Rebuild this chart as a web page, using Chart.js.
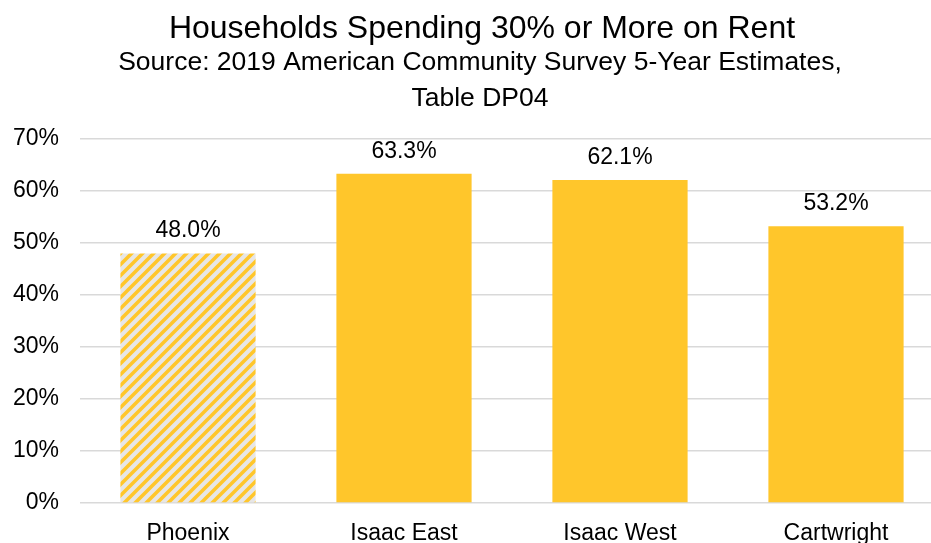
<!DOCTYPE html>
<html>
<head>
<meta charset="utf-8">
<script src="https://cdn.jsdelivr.net/npm/chart.js@4"></script>
<style>
  html, body { margin: 0; padding: 0; background: #ffffff; overflow: hidden; width: 931px; height: 543px; }
  canvas { display: block; }
</style>
</head>
<body>
<canvas id="c" width="964" height="560"></canvas>
<script>
const categories = ["Phoenix", "Isaac East", "Isaac West", "Cartwright"];
const values = [48.0, 63.3, 62.1, 53.2];
const yTicks = [0, 10, 20, 30, 40, 50, 60, 70];
const titleText = "Households Spending 30% or More on Rent";
const subtitleLines = ["Source: 2019 American Community Survey 5-Year Estimates,", "Table DP04"];

const YELLOW = "#FFC62B";
const HATCH_BG = "#E7E6E6";
const FONT = "'Liberation Sans', Arial, Helvetica, sans-serif";

function makeHatch() {
  const s = 11;
  const c = document.createElement('canvas');
  c.width = s; c.height = s;
  const g = c.getContext('2d');
  g.fillStyle = HATCH_BG;
  g.fillRect(0, 0, s, s);
  g.strokeStyle = YELLOW;
  g.lineWidth = 3.6;
  g.lineCap = 'square';
  for (let k = -1; k <= 1; k++) {
    g.beginPath();
    g.moveTo(k * s, s);
    g.lineTo(k * s + s, 0);
    g.stroke();
  }
  return document.getElementById('c').getContext('2d').createPattern(c, 'repeat');
}
const hatch = makeHatch();

const titles = {
  id: 'titles',
  afterDraw(chart) {
    const ctx = chart.ctx;
    ctx.save();
    ctx.fillStyle = '#000000';
    ctx.textAlign = 'center';
    ctx.textBaseline = 'alphabetic';
    ctx.font = "32px " + FONT;
    ctx.fillText(titleText, 482, 38);
    ctx.font = "26.5px " + FONT;
    ctx.fillText(subtitleLines[0], 480, 70);
    ctx.fillText(subtitleLines[1], 480, 106);
    ctx.restore();
  }
};

const valueLabels = {
  id: 'valueLabels',
  afterDatasetsDraw(chart) {
    const ctx = chart.ctx;
    const meta = chart.getDatasetMeta(0);
    ctx.save();
    ctx.fillStyle = '#000000';
    ctx.font = "23px " + FONT;
    ctx.textAlign = 'center';
    ctx.textBaseline = 'alphabetic';
    meta.data.forEach((bar, i) => {
      ctx.fillText(values[i].toFixed(1) + '%', bar.x, bar.y - 16);
    });
    ctx.restore();
  }
};

new Chart(document.getElementById('c'), {
  type: 'bar',
  data: {
    labels: categories,
    datasets: [{
      data: values,
      backgroundColor: [hatch, YELLOW, YELLOW, YELLOW],
      borderWidth: 0,
      barPercentage: 0.626,
      categoryPercentage: 1.0
    }]
  },
  options: {
    responsive: false,
    animation: false,
    events: [],
    layout: { padding: { left: 0, right: 20, top: 139, bottom: 0 } },
    plugins: {
      legend: { display: false },
      tooltip: { enabled: false },
      title: { display: false },
      subtitle: { display: false }
    },
    scales: {
      y: {
        min: 0,
        max: 70,
        afterFit(scale) { scale.width = 80; },
        afterBuildTicks(scale) { scale.ticks = yTicks.map(v => ({ value: v })); },
        ticks: {
          stepSize: 10,
          padding: 21,
          color: '#000000',
          font: { family: FONT, size: 23 },
          callback: v => v + '%'
        },
        grid: { color: '#D9D9D9', lineWidth: 1.6, drawTicks: false },
        border: { display: false }
      },
      x: {
        afterFit(scale) { scale.height = 57; },
        ticks: {
          padding: 17,
          color: '#000000',
          font: { family: FONT, size: 23 }
        },
        grid: { display: false, drawTicks: false },
        border: { display: false }
      }
    }
  },
  plugins: [valueLabels, titles]
});
</script>
</body>
</html>
